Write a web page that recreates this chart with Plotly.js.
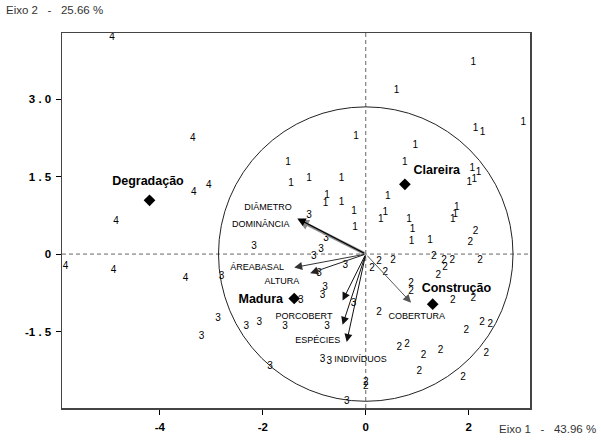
<!DOCTYPE html>
<html>
<head>
<meta charset="utf-8">
<script src="https://cdn.plot.ly/plotly-3.0.1.min.js"></script>
<style>html,body{margin:0;padding:0;background:#fff;}#chart{width:601px;height:440px;}</style>
</head>
<body>
<div id="chart"></div>
<script>
// ---- Data ----
// Group "1" (Clareira)
const g1x = [2.09,0.60,2.13,2.27,3.06,-0.19,0.96,-1.51,0.76,2.07,2.19,2.11,2.01,-1.45,-1.10,-0.47,-0.75,-0.78,-0.47,-0.23,0.43,0.38,0.29,0.84,0.91,-0.21,1.77,1.74,1.69,0.89,1.25];
const g1y = [3.71,3.17,2.44,2.36,2.54,2.28,2.11,1.77,1.77,1.66,1.57,1.44,1.38,1.37,1.46,1.46,1.14,0.97,0.99,0.83,1.12,0.80,0.67,0.66,0.48,0.52,0.90,0.77,0.66,0.24,0.26];
// Group "2" (Construção)
const g2x = [2.13,2.03,0.26,0.12,0.53,0.38,1.32,1.52,1.68,1.54,1.41,2.22,0.88,0.88,1.69,2.09,0.26,2.26,2.42,1.95,0.65,0.80,1.12,1.45,2.34,1.04,1.89,0.00,0.00];
const g2y = [0.44,0.23,-0.14,-0.27,-0.12,-0.35,-0.04,-0.12,-0.13,-0.26,-0.41,-0.12,-0.57,-0.73,-0.89,-0.86,-1.14,-1.33,-1.36,-1.48,-1.80,-1.76,-1.97,-1.86,-1.92,-2.28,-2.39,-2.49,-2.57];
// Group "3" (Madura)
const g3x = [-1.10,-0.77,-2.17,-0.87,-1.01,-0.40,-0.91,-2.80,-0.79,-0.84,-1.26,-0.24,-2.87,-2.32,-2.07,-1.57,-0.75,-3.19,-1.86,-0.84,-0.71,-0.37];
const g3y = [0.74,0.30,0.14,0.09,-0.04,-0.23,-0.38,-0.44,-0.64,-0.81,-0.89,-0.95,-1.24,-1.41,-1.33,-1.41,-1.41,-1.59,-2.17,-2.05,-2.07,-2.86];
// Group "4" (Degradação)
const g4x = [-4.93,-3.36,-3.34,-3.05,-4.85,-5.83,-4.90,-3.50];
const g4y = [4.20,2.23,1.20,1.33,0.63,-0.25,-0.32,-0.48];

const groupCodes = ['1','2','3','4'];

// Group centroids
const groupNames = ['Degradação','Clareira','Madura','Construção'];
const centX = [-4.20, 0.76, -1.39, 1.30];
const centY = [1.04, 1.35, -0.86, -0.97];
const groupLabelX = [-4.23, 1.38, -2.04, 1.76];
const groupLabelY = [1.39, 1.62, -0.88, -0.68];

// Variable vectors
const varNames = ['DOMINÂNCIA','DIÂMETRO','ÁREABASAL','ALTURA','PORCOBERT','ESPÉCIES','INDIVÍDUOS','COBERTURA'];
const varX = [-1.31,-1.33,-1.39,-1.08,-0.45,-0.37,-0.45,0.88];
const varY = [0.66,0.69,-0.26,-0.37,-1.37,-1.70,-0.90,-0.94];
const varLabelX = [-2.04,-1.90,-2.11,-1.63,-1.20,-0.93,-0.10,0.99];
const varLabelY = [0.56,0.90,-0.26,-0.54,-1.21,-1.68,-2.05,-1.21];

// Axis ticks
const xTickVals = [-4,-2,0,2];
const xTickText = ['-4','-2','0','2'];
const yTickVals = [-1.5,0,1.5,3.0];
const yTickText = ['-1 . 5','0','1 . 5','3 . 0'];

const xTitle = 'Eixo 1\u00a0 \u00a0-\u00a0 \u00a043.96 %';
const yTitle = 'Eixo 2\u00a0 \u00a0-\u00a0 \u00a025.66 %';

// ---- Styles ----
const numFont = {family:'Arial, Liberation Sans, sans-serif', size:10, color:'#000'};
const arrowColors = ['#8a8a8a','#000','#333','#222','#111','#111','#111','#555'];
const arrowWidths = [3,1.2,1,1,1,1,1,1];
const arrowSizes = [0.7,1.4,1.6,1.6,1.6,1.6,1.6,1.6];

const gxs=[g1x,g2x,g3x,g4x], gys=[g1y,g2y,g3y,g4y];
const traces = [];
for (let i=0;i<4;i++){
  traces.push({
    type:'scatter', mode:'text', x:gxs[i], y:gys[i],
    text:gxs[i].map(()=>groupCodes[i]),
    textposition:'middle center', textfont:numFont,
    hoverinfo:'skip', cliponaxis:false, showlegend:false
  });
}
traces.push({
  type:'scatter', mode:'markers', x:centX, y:centY,
  marker:{symbol:'diamond', size:9, color:'#000'},
  hoverinfo:'skip', showlegend:false
});
traces.push({
  type:'scatter', mode:'text', x:groupLabelX, y:groupLabelY, text:groupNames,
  textposition:'middle center',
  textfont:{family:'Arial, Liberation Sans, sans-serif', size:12.5, color:'#000', weight:'bold'},
  hoverinfo:'skip', cliponaxis:false, showlegend:false
});
traces.push({
  type:'scatter', mode:'text', x:varLabelX, y:varLabelY, text:varNames,
  textposition:'middle center',
  textfont:{family:'Arial, Liberation Sans, sans-serif', size:9, color:'#000'},
  hoverinfo:'skip', cliponaxis:false, showlegend:false
});

const annotations = varNames.map((n,i)=>({
  x:varX[i], y:varY[i], xref:'x', yref:'y',
  ax:0, ay:0, axref:'x', ayref:'y',
  text:'', showarrow:true, arrowhead:2,
  arrowsize:arrowSizes[i], arrowwidth:arrowWidths[i], arrowcolor:arrowColors[i]
}));
annotations.push({
  xref:'paper', yref:'paper', x:-0.123, y:1.060, xanchor:'left', yanchor:'middle',
  text:yTitle, showarrow:false,
  font:{family:'Arial, Liberation Sans, sans-serif', size:11.5, color:'#333'}
});
annotations.push({
  xref:'paper', yref:'paper', x:1.145, y:-0.057, xanchor:'right', yanchor:'middle',
  text:xTitle, showarrow:false,
  font:{family:'Arial, Liberation Sans, sans-serif', size:11.5, color:'#333'}
});

const dash = {color:'#666', width:1, dash:'4px,3px'};
const shapes = [
  {type:'line', xref:'x', yref:'paper', x0:0, x1:0, y0:0, y1:1, line:dash, layer:'below'},
  {type:'line', xref:'paper', yref:'y', x0:0, x1:1, y0:0, y1:0, line:dash, layer:'below'},
  {type:'circle', xref:'x', yref:'y', x0:-2.86, x1:2.86, y0:-2.85, y1:2.85, line:{color:'#222', width:1}, layer:'below'}
];

const tickFont = {family:'Arial, Liberation Sans, sans-serif', size:11.5, color:'#000', weight:'bold'};
const layout = {
  width:601, height:440,
  margin:{l:62.4, r:71.3, t:32.7, b:31.7, pad:0},
  paper_bgcolor:'#fff', plot_bgcolor:'#fff',
  showlegend:false,
  xaxis:{range:[-5.9,3.19], showgrid:false, zeroline:false,
    showline:true, mirror:true, linecolor:'#444', linewidth:1.5,
    ticks:'outside', ticklen:5, tickcolor:'#000', tickwidth:1,
    tickvals:xTickVals, ticktext:xTickText, tickfont:tickFont, ticklabelstandoff:3},
  yaxis:{range:[-2.98,4.28], showgrid:false, zeroline:false,
    showline:true, mirror:true, linecolor:'#444', linewidth:1.5,
    ticks:'outside', ticklen:5, tickcolor:'#000', tickwidth:1,
    tickvals:yTickVals, ticktext:yTickText, tickfont:tickFont, ticklabelstandoff:2},
  shapes:shapes, annotations:annotations
};

Plotly.newPlot('chart', traces, layout, {staticPlot:true, displayModeBar:false});
</script>
</body>
</html>
